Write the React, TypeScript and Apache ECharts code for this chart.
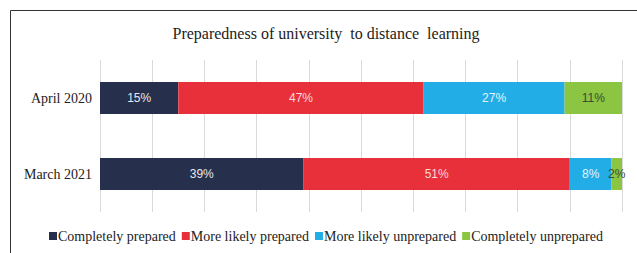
import React, { useEffect, useRef } from "react";
import * as echarts from "echarts";

const categories = ["April 2020", "March 2021"];
const seriesNames = [
  "Completely prepared",
  "More likely prepared",
  "More likely unprepared",
  "Completely unprepared",
];
const completelyPrepared = [15, 39];
const moreLikelyPrepared = [47, 51];
const moreLikelyUnprepared = [27, 8];
const completelyUnprepared = [11, 2];
const colors = ["#262f4b", "#e8303a", "#22ade6", "#8bc541"];
const labelColors = ["#e6e8ee", "#f6dadb", "#e3f4fb", "#3c4a3a"];

export default function App() {
  const ref = useRef<HTMLDivElement>(null);
  useEffect(() => {
    const chart = echarts.init(ref.current!, null, { renderer: "svg" });
    const data = [completelyPrepared, moreLikelyPrepared, moreLikelyUnprepared, completelyUnprepared];
    chart.setOption({
      animation: false,
      title: {
        text: "Preparedness of university  to distance  learning",
        left: 321,
        top: 20,
        textAlign: "center",
        textStyle: {
          fontFamily: "Liberation Serif",
          fontWeight: "normal",
          fontSize: 16,
          color: "#222",
        },
      },
      graphic: [
        {
          type: "rect",
          shape: { x: 10.5, y: 10.5, width: 700, height: 300 },
          style: { fill: "none", stroke: "#333", lineWidth: 1 },
          silent: true,
        },
      ],
      legend: {
        bottom: 5,
        left: 44,
        itemWidth: 8,
        itemHeight: 8,
        itemGap: 6,
        icon: "rect",
        textStyle: { fontFamily: "Liberation Serif", fontSize: 14, color: "#222", padding: [0, 0, 0, -4] },
        data: seriesNames,
      },
      grid: { left: 100, right: 15, top: 60, bottom: 41 },
      xAxis: {
        type: "value",
        min: 0,
        max: 100,
        interval: 10,
        axisLabel: { show: false },
        axisLine: { show: false },
        axisTick: { show: false },
        splitLine: { lineStyle: { color: "#d9d9d9" } },
      },
      yAxis: {
        type: "category",
        inverse: true,
        data: categories,
        axisLine: { show: false },
        axisTick: { show: false },
        axisLabel: {
          fontFamily: "Liberation Serif",
          fontSize: 14,
          color: "#222",
          margin: 8,
        },
      },
      series: seriesNames.map((name, i) => ({
        name,
        type: "bar",
        stack: "total",
        barWidth: "42%",
        data: data[i],
        itemStyle: { color: colors[i] },
        label: {
          show: true,
          position: "inside",
          formatter: "{c}%",
          fontFamily: "Liberation Sans",
          fontSize: 12,
          color: labelColors[i],
        },
      })),
    });
    return () => chart.dispose();
  }, []);
  return (
    <div
      ref={ref}
      style={{ position: "absolute", left: 0, top: 0, width: 637, height: 253, background: "#fff" }}
    />
  );
}
